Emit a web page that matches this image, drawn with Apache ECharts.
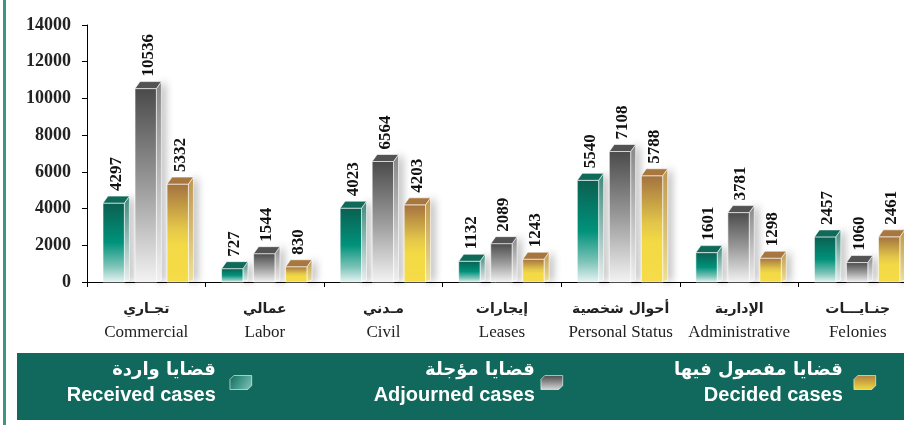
<!DOCTYPE html>
<html>
<head>
<meta charset="utf-8">
<script src="https://cdn.jsdelivr.net/npm/echarts@6/dist/echarts.min.js"></script>
<style>html,body{margin:0;padding:0;background:#fff}#c{width:904px;height:425px}</style>
</head>
<body>
<div id="c"></div>
<script>
const categoriesEn = ['Commercial', 'Labor', 'Civil', 'Leases', 'Personal Status', 'Administrative', 'Felonies'];
const categoriesAr = ['تجـاري', 'عمالي', 'مـدني', 'إيجارات', 'أحوال شخصية', 'الإدارية', 'جنـايـــات'];
const received = [4297, 727, 4023, 1132, 5540, 1601, 2457];
const adjourned = [10536, 1544, 6564, 2089, 7108, 3781, 1060];
const decided = [5332, 830, 4203, 1243, 5788, 1298, 2461];
const seriesNames = ['Received cases', 'Adjourned cases', 'Decided cases'];
const seriesNamesAr = ['قضايا واردة', 'قضايا مؤجلة', 'قضايا مفصول فيها'];
const yTicks = {min: 0, max: 14000, interval: 2000};

const G = echarts.graphic.LinearGradient;
const palettes = [
  {
    front: new G(0,0,0,1,[{offset:0,color:'#0b5f51'},{offset:0.5,color:'#00927b'},{offset:0.8,color:'#7ec4b8'},{offset:1,color:'#e8f4f4'}]),
    top: '#0f6a59',
    side: new G(0,0,0,1,[{offset:0,color:'#3d8d7f'},{offset:1,color:'#f2f7f7'}]),
    legend: new G(0,0,1,1,[{offset:0,color:'#0d6a5a'},{offset:1,color:'#7fc9bb'}])
  },
  {
    front: new G(0,0,0,1,[{offset:0,color:'#4a4a4a'},{offset:0.5,color:'#9a9a9a'},{offset:1,color:'#f3f3f3'}]),
    top: '#535353',
    side: new G(0,0,0,1,[{offset:0,color:'#8a8a8a'},{offset:1,color:'#f7f7f7'}]),
    legend: new G(0,0,0,1,[{offset:0,color:'#4a4a4a'},{offset:1,color:'#d8d8d8'}])
  },
  {
    front: new G(0,0,0,1,[{offset:0,color:'#a3713f'},{offset:0.45,color:'#e3c64a'},{offset:0.62,color:'#f3d944'},{offset:1,color:'#f5dc48'}]),
    top: '#a7773f',
    side: new G(0,0,0,1,[{offset:0,color:'#c49a50'},{offset:1,color:'#f6e79a'}]),
    legend: new G(0,0,0,1,[{offset:0,color:'#b08040'},{offset:1,color:'#f0d840'}])
  }
];

function makeRender(idx) {
  const pal = palettes[idx];
  return function (params, api) {
    const ci = api.value(0), v = api.value(1);
    const base = api.coord([ci, 0]);
    const top = api.coord([ci, v]);
    const band = api.size([1, 0])[0];
    const w = band * 0.18;
    const off = (idx - 1) * band * 0.27 - band * 0.005;
    const cx = base[0] + off;
    const x0 = cx - w / 2, x1 = cx + w / 2;
    const yT = top[1], yB = base[1];
    const dx = 5, dy = 7;
    const edge = 'rgba(255,255,255,0.75)';
    return {
      type: 'group',
      children: [
        {type: 'polygon', shape: {points: [[x1, yT], [x1 + dx, yT - dy], [x1 + dx, yB - 2], [x1, yB]]},
         style: {fill: pal.side, stroke: edge, lineWidth: 0.8, shadowBlur: 8, shadowColor: 'rgba(0,0,0,0.35)', shadowOffsetX: 3}},
        {type: 'rect', shape: {x: x0, y: yT, width: w, height: yB - yT},
         style: {fill: pal.front, stroke: edge, lineWidth: 0.8}},
        {type: 'polygon', shape: {points: [[x0, yT], [x0 + dx, yT - dy], [x1 + dx, yT - dy], [x1, yT]]},
         style: {fill: pal.top, stroke: edge, lineWidth: 0.8}},
        {type: 'text', x: cx + dx / 2, y: yT - dy - 5, rotation: Math.PI / 2,
         style: {text: String(v), fill: '#111', font: 'bold 17px "Liberation Serif", "Times New Roman", serif', align: 'left', verticalAlign: 'middle'}}
      ]
    };
  };
}

const seriesData = [received, adjourned, decided];
const solid = ['#0e7a66', '#7a7a7a', '#e0bc45'];
const series = seriesData.map((arr, i) => ({
  type: 'custom',
  name: seriesNames[i],
  renderItem: makeRender(i),
  itemStyle: {color: solid[i]},
  encode: {x: 0, y: 1},
  data: arr.map((v, j) => [j, v]),
  z: 3
}));

const cubeIcon = 'path://M0,5 L5,0 L28,0 L28,13 L23,18 L0,18 Z';
const legendRights = [652, 341, 28];
const legendGaps = [9, 1, 6];
const legends = seriesNames.map((n, i) => ({
  data: [{name: n, icon: cubeIcon, itemStyle: {color: palettes[i].legend, borderColor: '#fff', borderWidth: 0.6}}],
  right: legendRights[i],
  top: 361,
  padding: 0,
  align: 'right',
  itemWidth: 22,
  itemHeight: 14,
  selectedMode: false,
  formatter: function (name) {
    return '{ar|' + seriesNamesAr[seriesNames.indexOf(name)] + '}\n{en|' + name + '}';
  },
  textStyle: {
    color: '#fff',
    rich: {
      ar: {color: '#fff', fontWeight: 'bold', fontSize: 18, fontFamily: '"DejaVu Sans", sans-serif', lineHeight: 26, align: 'right', padding: [0, legendGaps[i], 0, 0]},
      en: {color: '#fff', fontWeight: 'bold', fontSize: 20, fontFamily: '"Liberation Sans", Arial, sans-serif', lineHeight: 25, align: 'right', padding: [0, legendGaps[i], 0, 0]}
    }
  }
}));

const chart = echarts.init(document.getElementById('c'), null, {renderer: 'canvas'});
chart.setOption({
  backgroundColor: '#fff',
  animation: false,
  graphic: [
    {type: 'rect', shape: {x: 3, y: 0, width: 3, height: 425}, style: {fill: '#3f9585'}, z: -10},
    {type: 'rect', shape: {x: 17, y: 353, width: 887, height: 67}, style: {fill: '#10695c'}, z: -10}
  ],
  legend: legends,
  grid: {left: 87, top: 25, width: 830, height: 257, containLabel: false, outerBoundsMode: 'none'},
  xAxis: {
    type: 'category',
    data: categoriesEn,
    axisLine: {lineStyle: {color: '#000', width: 1}},
    axisTick: {show: true, length: 5, lineStyle: {color: '#000'}},
    axisLabel: {
      margin: 16,
      interval: 0,
      formatter: function (val, idx) {
        return '{ar|' + categoriesAr[idx] + '}\n{en|' + val + '}';
      },
      rich: {
        ar: {fontSize: 14, fontWeight: 'bold', color: '#222', fontFamily: '"DejaVu Sans", sans-serif', lineHeight: 22},
        en: {fontSize: 17, color: '#222', fontFamily: '"Liberation Serif", "Times New Roman", serif', lineHeight: 26}
      }
    }
  },
  yAxis: {
    type: 'value',
    min: yTicks.min, max: yTicks.max, interval: yTicks.interval,
    axisLine: {show: true, lineStyle: {color: '#000', width: 1}},
    axisTick: {show: true, length: 5, lineStyle: {color: '#000'}},
    splitLine: {show: false},
    axisLabel: {margin: 16, color: '#222', fontSize: 18, fontWeight: 'bold', fontFamily: '"Liberation Serif", "Times New Roman", serif',
      formatter: function (v) { return String(v); }}
  },
  series: series
});
</script>
</body>
</html>
